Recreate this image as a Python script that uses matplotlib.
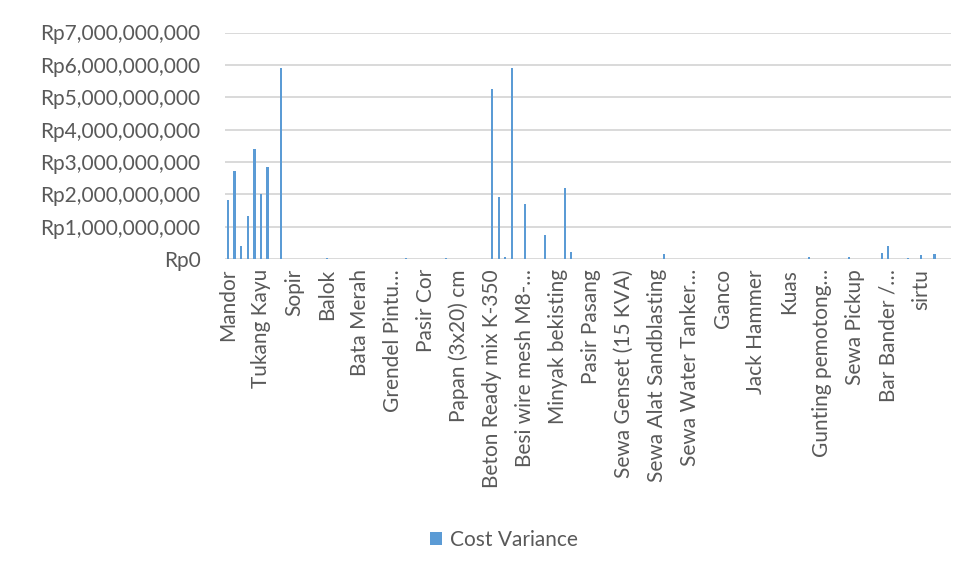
import matplotlib
matplotlib.use("Agg")
import matplotlib.pyplot as plt
from matplotlib.patches import Patch
from matplotlib.ticker import FuncFormatter, MultipleLocator

plt.rcParams['font.family'] = ['Lato', 'DejaVu Sans']

# Cost variance per work item (Rp), 110 items in order
cost_variance = [
    1_840_000_000, 2_730_000_000, 410_000_000, 1_340_000_000, 3_410_000_000,
    2_020_000_000, 2_850_000_000, 0, 5_910_000_000, 0,
    0, 0, 0, 0, 0,
    40_000_000, 0, 0, 0, 0,
    0, 0, 0, 0, 0,
    0, 0, 50_000_000, 0, 0,
    0, 0, 10_000_000, 50_000_000, 0,
    0, 0, 0, 0, 0,
    5_260_000_000, 1_920_000_000, 70_000_000, 5_900_000_000, 0,
    1_720_000_000, 0, 0, 760_000_000, 0,
    0, 2_190_000_000, 220_000_000, 0, 0,
    0, 0, 10_000_000, 10_000_000, 0,
    0, 0, 0, 0, 0,
    0, 160_000_000, 10_000_000, 0, 0,
    0, 0, 0, 0, 0,
    0, 0, 0, 0, 0,
    0, 0, 0, 0, 0,
    0, 0, 0, 60_000_000, 0,
    0, 0, 0, 0, 60_000_000,
    0, 0, 0, 0, 200_000_000,
    410_000_000, 0, 0, 50_000_000, 20_000_000,
    130_000_000, 0, 160_000_000, 10_000_000, 0,
]

# Every fifth item carries a visible axis label
tick_labels = [
    "Mandor", "Tukang Kayu", "Sopir", "Balok", "Bata Merah",
    "Grendel Pintu…", "Pasir Cor", "Papan (3x20) cm", "Beton Ready mix K-350",
    "Besi wire mesh M8-…", "Minyak bekisting", "Pasir Pasang",
    "Sewa Genset (15 KVA)", "Sewa Alat Sandblasting", "Sewa Water Tanker…",
    "Ganco", "Jack Hammer", "Kuas", "Gunting pemotong…", "Sewa Pickup",
    "Bar Bander /…", "sirtu",
]
label_step = 5
series_name = "Cost Variance"

bar_color = "#5B9BD5"
grid_color = "#D9D9D9"
text_color = "#595959"

W, H = 972, 577
fig = plt.figure(figsize=(W / 100, H / 100), dpi=100)
ax = fig.add_axes([224.7 / W, 1 - 259.3 / H, (951 - 224.7) / W, (259.3 - 32.5) / H])

x = list(range(len(cost_variance)))
ax.bar(x, cost_variance, width=0.35, color=bar_color, zorder=3)

ax.set_xlim(-0.5, len(cost_variance) - 0.5)
ax.set_ylim(0, 7_000_000_000)
ax.yaxis.set_major_locator(MultipleLocator(1_000_000_000))
ax.yaxis.set_major_formatter(FuncFormatter(lambda v, p: f"Rp{v:,.0f}"))
ax.grid(axis="y", color=grid_color, linewidth=1.4, zorder=0)
ax.set_axisbelow(True)

ax.set_xticks(x[::label_step])
ax.set_xticklabels(tick_labels, rotation=90, ha="center", va="top")

for s in ax.spines.values():
    s.set_visible(False)
ax.tick_params(axis="both", length=0, labelsize=15, colors=text_color)
ax.tick_params(axis="y", pad=17.5)
ax.tick_params(axis="x", pad=7)

fig.legend(handles=[Patch(facecolor=bar_color, label=series_name)],
           loc="center", bbox_to_anchor=(504 / W, 1 - 540 / H), frameon=False,
           fontsize=15, labelcolor=text_color, handlelength=0.55, handleheight=0.55,
           handletextpad=0.4)

fig.savefig("out.png", dpi=100, facecolor="white")
